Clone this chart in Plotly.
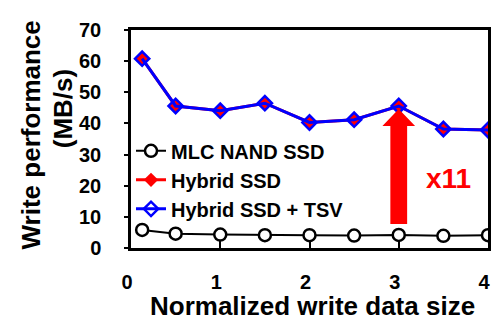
import plotly.graph_objects as go

# ---- data ----
data_size = [0.125, 0.5, 1.0, 1.5, 2.0, 2.5, 3.0, 3.5, 4.0]
mlc_nand = [5.8, 4.6, 4.3, 4.1, 4.1, 4.0, 4.2, 3.9, 4.1]
hybrid_ssd = [60.8, 45.6, 44.1, 46.5, 40.3, 41.2, 45.6, 38.2, 37.9]
hybrid_tsv = [60.8, 45.6, 44.1, 46.5, 40.3, 41.2, 45.6, 38.2, 37.9]
x_ticks = [0, 1, 2, 3, 4]
y_ticks = [0, 10, 20, 30, 40, 50, 60, 70]
series_names = ["MLC NAND SSD", "Hybrid SSD", "Hybrid SSD + TSV"]
gain_label = "x11"

FONT = "Liberation Sans, Arial, sans-serif"

fig = go.Figure()
fig.add_trace(go.Scatter(
    x=data_size, y=mlc_nand, name=series_names[0], mode="lines+markers",
    line=dict(color="black", width=2),
    marker=dict(symbol="circle", size=12, color="white",
                line=dict(color="black", width=2.5)),
))
fig.add_trace(go.Scatter(
    x=data_size, y=hybrid_ssd, name=series_names[1], mode="lines+markers",
    line=dict(color="#ff0000", width=3),
    marker=dict(symbol="diamond", size=11, color="#ff0000",
                line=dict(color="#ff0000", width=0)),
))
fig.add_trace(go.Scatter(
    x=data_size, y=hybrid_tsv, name=series_names[2], mode="lines+markers",
    line=dict(color="#0000ff", width=3),
    marker=dict(symbol="diamond-open", size=11, color="#0000ff",
                line=dict(color="#0000ff", width=2.5)),
))

# ---- improvement arrow at x = 3 (from MLC value up to Hybrid value) ----
i = data_size.index(3.0)
xc = data_size[i]
tip = hybrid_tsv[i] - 1.0
base = mlc_nand[i] + 3.5
head_base = tip - 5.4
sw = 0.094   # shaft half width (x units)
hw = 0.183   # head half width (x units)
path = (f"M{xc - sw},{base} L{xc + sw},{base} L{xc + sw},{head_base} "
        f"L{xc + hw},{head_base} L{xc},{tip} L{xc - hw},{head_base} "
        f"L{xc - sw},{head_base} Z")
fig.add_shape(type="path", path=path, xref="x", yref="y",
              fillcolor="#ff0000", line=dict(width=0), layer="above")

fig.add_annotation(x=3.56, y=22.3, xref="x", yref="y", text=gain_label,
                   showarrow=False,
                   font=dict(family=FONT, size=28, color="#ff0000", weight="bold"))

# ---- y-axis title (two lines) ----
fig.add_annotation(x=-0.2806, y=0.52, xref="paper", yref="paper",
                   text="Write performance", textangle=-90, showarrow=False,
                   xanchor="center", yanchor="middle",
                   font=dict(family=FONT, size=26, color="black", weight="bold"))
fig.add_annotation(x=-0.1917, y=0.639, xref="paper", yref="paper",
                   text="(MB/s)", textangle=-90, showarrow=False,
                   xanchor="center", yanchor="middle",
                   font=dict(family=FONT, size=26, color="black", weight="bold"))
# ---- x-axis title ----
fig.add_annotation(x=0.508, y=-0.268, xref="paper", yref="paper",
                   text="Normalized write data size", showarrow=False,
                   xanchor="center", yanchor="middle",
                   font=dict(family=FONT, size=26, color="black", weight="bold"))

# page body has an 8px margin, so the figure is 8px smaller and shifted
fig.update_layout(
    width=494, height=313,
    margin=dict(l=123, r=11, t=13, b=73),
    paper_bgcolor="white", plot_bgcolor="white",
    font=dict(family=FONT, size=20, color="black", weight="bold"),
    showlegend=True,
    legend=dict(x=0.0, y=0.535, xanchor="left", yanchor="top",
                bgcolor="rgba(0,0,0,0)", borderwidth=0,
                font=dict(family=FONT, size=20, color="black", weight="bold"),
                itemwidth=30, tracegroupgap=0),
)
fig.update_xaxes(
    range=[0, 4], tickvals=x_ticks, ticktext=[str(v) for v in x_ticks],
    showgrid=False, zeroline=False,
    showline=True, linecolor="black", linewidth=2.5, mirror=True,
    ticks="inside", ticklen=7, tickwidth=2, tickcolor="black",
    ticklabelstandoff=14, ticklabelshift=-4,
    tickfont=dict(family=FONT, size=20, color="black", weight="bold"),
)
fig.update_yaxes(
    range=[0, 70], tickvals=y_ticks,
    showgrid=False, zeroline=False,
    showline=True, linecolor="black", linewidth=2.5, mirror=True,
    ticks="outside", ticklen=4, tickwidth=2, tickcolor="black",
    ticklabelstandoff=19,
    tickfont=dict(family=FONT, size=20, color="black", weight="bold"),
)

fig.write_html("out.html")
